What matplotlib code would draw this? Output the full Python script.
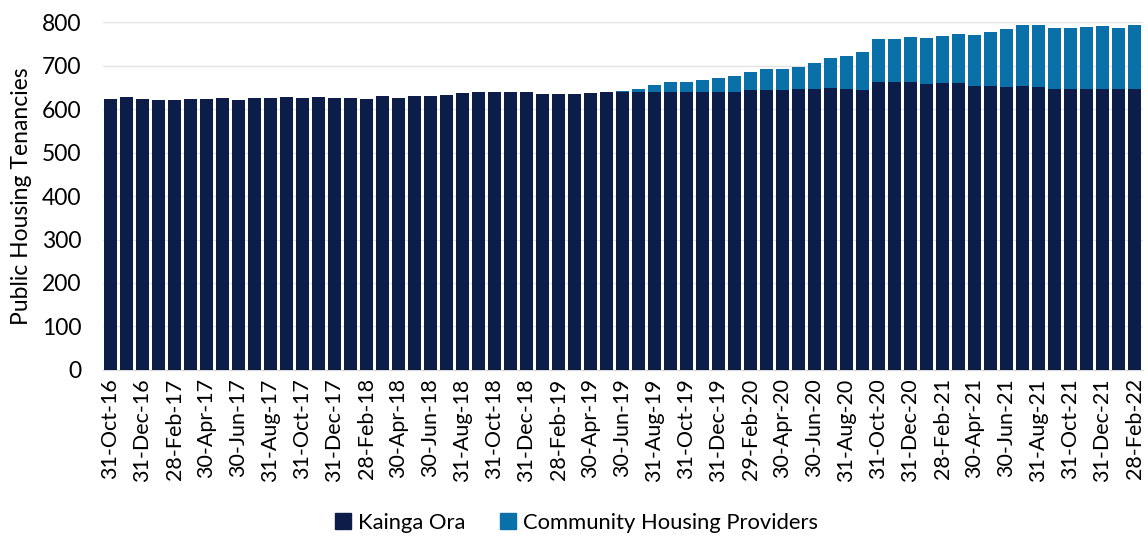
import numpy as np
import matplotlib
matplotlib.use("Agg")
import matplotlib.pyplot as plt
from matplotlib.patches import Patch

# monthly tenancies, Oct-16 .. Feb-22 (one value per month-end)
kainga_ora = [
    623, 627, 624, 621, 621, 623, 623, 625, 621, 626,
    625, 628, 626, 628, 625, 625, 623, 630, 626, 629,
    629, 632, 637, 638, 640, 638, 638, 635, 635, 635,
    637, 638, 638, 639, 640, 640, 640, 640, 638, 638,
    644, 644, 644, 645, 646, 648, 645, 643, 663, 663,
    663, 658, 660, 659, 654, 653, 651, 652, 650, 647,
    647, 647, 647, 646, 647,
]
community = [
    0, 0, 0, 0, 0, 0, 0, 0, 0, 0,
    0, 0, 0, 0, 0, 0, 0, 0, 0, 0,
    0, 0, 0, 0, 0, 0, 0, 0, 0, 0,
    0, 0, 3, 8, 16, 21, 23, 26, 33, 37,
    41, 48, 48, 52, 60, 69, 78, 88, 97, 98,
    102, 105, 109, 113, 117, 124, 132, 140, 142, 139,
    139, 141, 143, 140, 147,
]
# every second month is labelled
tick_labels = [
    "31-Oct-16", "31-Dec-16", "28-Feb-17", "30-Apr-17", "30-Jun-17",
    "31-Aug-17", "31-Oct-17", "31-Dec-17", "28-Feb-18", "30-Apr-18",
    "30-Jun-18", "31-Aug-18", "31-Oct-18", "31-Dec-18", "28-Feb-19",
    "30-Apr-19", "30-Jun-19", "31-Aug-19", "31-Oct-19", "31-Dec-19",
    "29-Feb-20", "30-Apr-20", "30-Jun-20", "31-Aug-20", "31-Oct-20",
    "31-Dec-20", "28-Feb-21", "30-Apr-21", "30-Jun-21", "31-Aug-21",
    "31-Oct-21", "31-Dec-21", "28-Feb-22",
]

dark = "#0b1d48"
light = "#0a70aa"

plt.rcParams['font.family'] = ['Lato', 'DejaVu Sans']

fig = plt.figure(figsize=(11.48, 5.37), dpi=100)
ax = fig.add_axes([0.0893, 0.311, 0.906, 0.648])

x = np.arange(len(kainga_ora))
ax.bar(x, kainga_ora, width=0.8, color=dark, zorder=3)
ax.bar(x, community, width=0.8, bottom=kainga_ora, color=light, zorder=3)

ax.set_xlim(-0.5, len(x) - 0.5)
ax.set_ylim(0, 800)
ax.set_yticks(np.arange(0, 801, 100))
ax.set_xticks(x[::2])
ax.set_xticklabels(tick_labels, rotation=90, fontsize=15.5)
ax.tick_params(axis='y', labelsize=16.5, length=0, pad=15)
ax.tick_params(axis='x', length=0, pad=6)
ax.grid(axis='y', color="#e3e3e3", linewidth=1, zorder=0)
for side in ['top', 'right', 'left']:
    ax.spines[side].set_visible(False)
ax.spines['bottom'].set_color("#d9d9d9")
ax.set_ylabel("Public Housing Tenancies", fontsize=16.5, labelpad=7)

handles = [Patch(color=dark, label="Kainga Ora"),
           Patch(color=light, label="Community Housing Providers")]
fig.legend(handles=handles, loc='center', bbox_to_anchor=(0.502, 0.026),
           ncol=2, frameon=False, fontsize=15.8, handlelength=0.75,
           handleheight=0.75, handletextpad=0.3, columnspacing=1.6)

fig.savefig("out.png", dpi=100)
